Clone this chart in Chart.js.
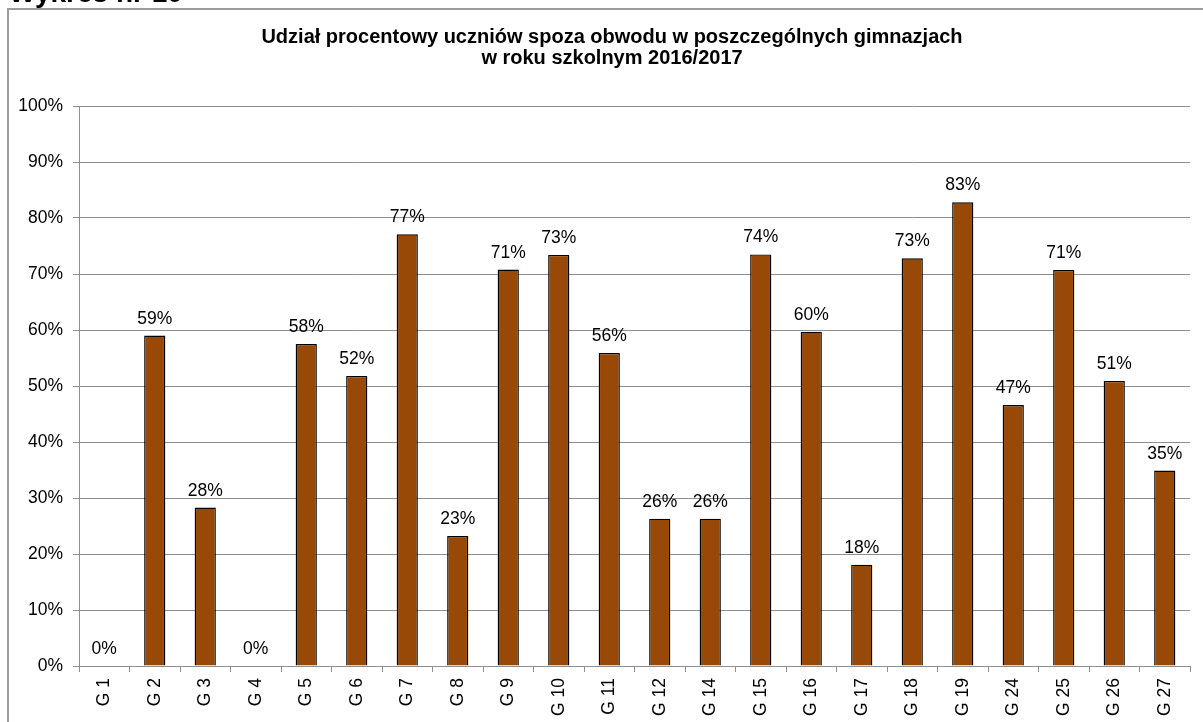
<!DOCTYPE html>
<html>
<head>
<meta charset="utf-8">
<script src="https://cdn.jsdelivr.net/npm/chart.js@4/dist/chart.umd.min.js"></script>
<style>
  html, body { margin: 0; padding: 0; background: #ffffff; }
  #wrap { position: absolute; left: 0; top: 0; width: 1203px; height: 722px; }
</style>
</head>
<body>
<div id="wrap"><canvas id="c" width="1203" height="722"></canvas></div>
<script>
const categories = ['G 1','G 2','G 3','G 4','G 5','G 6','G 7','G 8','G 9','G 10','G 11','G 12','G 14','G 15','G 16','G 17','G 18','G 19','G 24','G 25','G 26','G 27'];
const shares = [0, 59.0, 28.3, 0, 57.5, 51.8, 77.1, 23.2, 70.8, 73.4, 55.9, 26.3, 26.3, 73.5, 59.7, 18.1, 72.8, 82.8, 46.6, 70.7, 50.9, 34.9];
const yTicks = [0,10,20,30,40,50,60,70,80,90,100];
const titleLines = ['Udział procentowy uczniów spoza obwodu w poszczególnych gimnazjach', 'w roku szkolnym 2016/2017'];
const headerText = 'Wykres nr 10';

const FONT = '"Liberation Sans", Arial, sans-serif';
const GRID = '#8f8f8f';

const framePlugin = {
  id: 'frame',
  beforeDraw(chart) {
    const ctx = chart.ctx;
    ctx.save();
    ctx.fillStyle = '#ffffff';
    ctx.fillRect(0, 0, chart.width, chart.height);
    ctx.strokeStyle = '#9c9c9c';
    ctx.lineWidth = 2;
    ctx.beginPath();
    ctx.moveTo(8, 740);
    ctx.lineTo(8, 9);
    ctx.lineTo(1220, 9);
    ctx.stroke();
    ctx.fillStyle = '#000000';
    ctx.font = 'bold 28px ' + FONT;
    ctx.textBaseline = 'alphabetic';
    ctx.textAlign = 'left';
    ctx.fillText(headerText, 9, 1.5);
    // chart title
    ctx.font = 'bold 20px ' + FONT;
    ctx.textAlign = 'center';
    ctx.textBaseline = 'middle';
    titleLines.forEach((line, i) => ctx.fillText(line, 612, 37.5 + i * 21));
    ctx.restore();
  }
};

const valueLabels = {
  id: 'valueLabels',
  afterDatasetsDraw(chart) {
    const ctx = chart.ctx;
    const meta = chart.getDatasetMeta(0);
    ctx.save();
    ctx.fillStyle = '#000000';
    ctx.font = '17.5px ' + FONT;
    ctx.textAlign = 'center';
    ctx.textBaseline = 'alphabetic';
    meta.data.forEach((bar, i) => {
      const v = chart.data.datasets[0].data[i];
      ctx.fillText(Math.round(v) + '%', bar.x, bar.y - 12);
    });
    ctx.restore();
  }
};

new Chart(document.getElementById('c'), {
  type: 'bar',
  data: {
    labels: categories,
    datasets: [{
      data: shares,
      backgroundColor: '#984807',
      borderColor: '#000000',
      borderWidth: 1.4,
      categoryPercentage: 1.0,
      barPercentage: 0.42
    }]
  },
  options: {
    responsive: false,
    animation: false,
    devicePixelRatio: 1,
    layout: { padding: { top: 106, right: 13, bottom: 0, left: 0 } },
    plugins: {
      legend: { display: false },
      tooltip: { enabled: false },
      title: { display: false }
    },
    scales: {
      x: {
        grid: { display: true, drawOnChartArea: false, drawTicks: true, tickLength: 6, color: GRID, offset: true },
        border: { display: true, color: GRID, width: 1 },
        ticks: {
          color: '#000000',
          font: { family: FONT, size: 17.5 },
          minRotation: 90, maxRotation: 90,
          padding: 6,
          autoSkip: false
        },
        afterFit(scale) { scale.height = 56; }
      },
      y: {
        min: 0, max: 100,
        afterBuildTicks(scale) { scale.ticks = yTicks.map(v => ({ value: v })); },
        grid: { color: GRID, lineWidth: 1, drawTicks: true, tickLength: 6 },
        border: { display: true, color: GRID, width: 1 },
        ticks: {
          color: '#000000',
          font: { family: FONT, size: 17.5 },
          padding: 10,
          callback: v => v + '%'
        },
        afterFit(scale) { scale.width = 79; }
      }
    }
  },
  plugins: [framePlugin, valueLabels]
});
</script>
</body>
</html>
